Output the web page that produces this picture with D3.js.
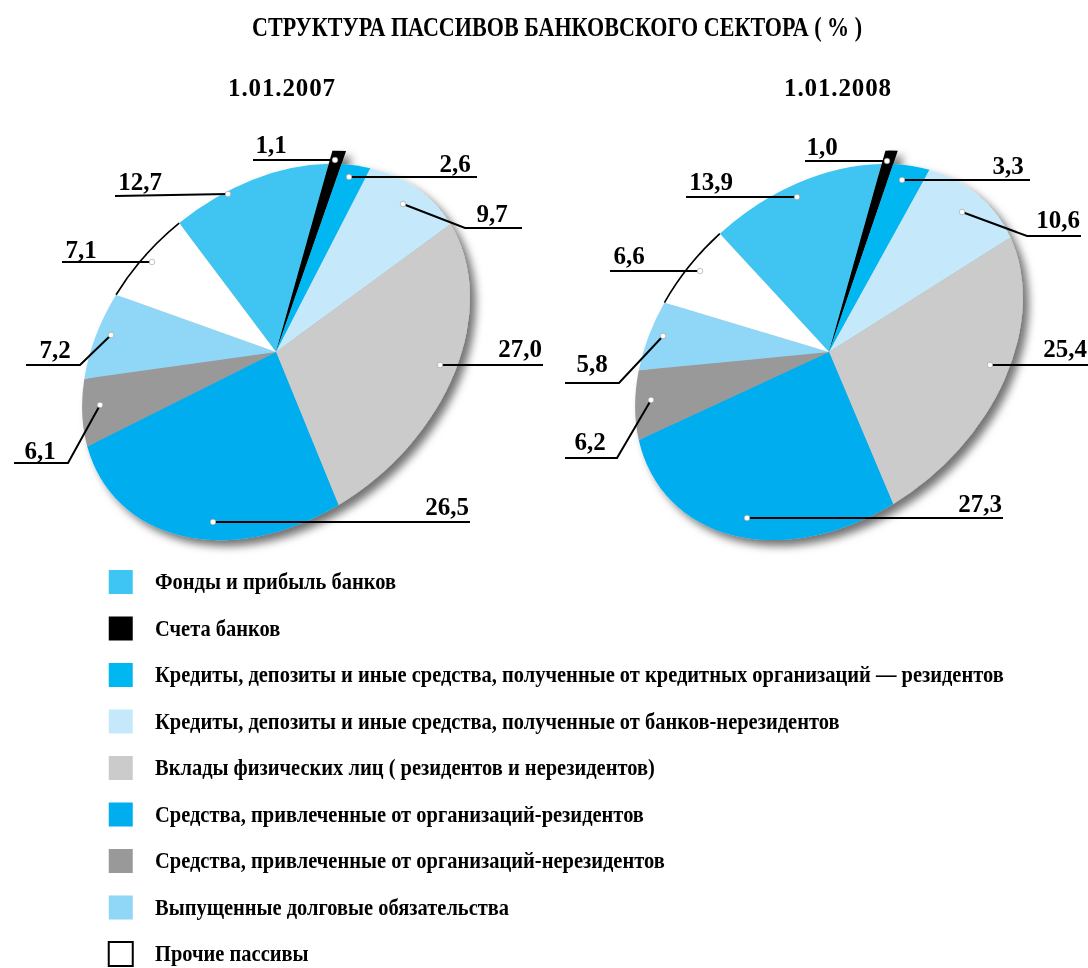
<!DOCTYPE html>
<html>
<head>
<meta charset="utf-8">
<script src="https://cdn.jsdelivr.net/npm/d3@7"></script>
<style>
html, body { margin: 0; padding: 0; background: #fff; overflow: hidden; }
svg { display: block; filter: blur(0.6px); }
text { font-family: "Liberation Serif", serif; font-weight: bold; fill: #000; }
</style>
</head>
<body>
<div id="chart"></div>
<script>
var categories = [
    "Фонды и прибыль банков",
    "Счета банков",
    "Кредиты, депозиты и иные средства, полученные от кредитных организаций — резидентов",
    "Кредиты, депозиты и иные средства, полученные от банков-нерезидентов",
    "Вклады физических лиц ( резидентов и нерезидентов)",
    "Средства, привлеченные от организаций-резидентов",
    "Средства, привлеченные от организаций-нерезидентов",
    "Выпущенные долговые обязательства",
    "Прочие пассивы"
];
var colors = ["#3fc5f3", "#000000", "#00b7f1", "#c5e9fa", "#cbcbcb", "#00aeef", "#999999", "#8fd6f7", "#ffffff"];
var values2007 = [12.7, 1.1, 2.6, 9.7, 27.0, 26.5, 6.1, 7.2, 7.1];
var values2008 = [13.9, 1.0, 3.3, 10.6, 25.4, 27.3, 6.2, 5.8, 6.6];
var dates = ["1.01.2007", "1.01.2008"];
var title = "СТРУКТУРА ПАССИВОВ БАНКОВСКОГО СЕКТОРА ( % )";

// leader lines, in page pixels: points from the dot outwards, then label x and baseline
var leaders2007 = [
    { pts: [[228, 194], [115, 196]], lx: 140, ly: 190 },
    { pts: [[335, 160], [253, 160]], lx: 271, ly: 153 },
    { pts: [[349, 177], [477, 177]], lx: 455, ly: 172 },
    { pts: [[403, 204], [465, 228], [522, 228]], lx: 492, ly: 222 },
    { pts: [[440, 365], [543, 365]], lx: 520, ly: 357 },
    { pts: [[213, 522], [470, 522]], lx: 447, ly: 515 },
    { pts: [[100, 405], [68, 463], [14, 463]], lx: 40, ly: 459 },
    { pts: [[111, 335], [80, 365], [26, 365]], lx: 55, ly: 358 },
    { pts: [[152, 262], [62, 262]], lx: 81, ly: 258 }
];
var leaders2008 = [
    { pts: [[797, 197], [686, 197]], lx: 711, ly: 190 },
    { pts: [[887, 161], [805, 161]], lx: 822, ly: 155 },
    { pts: [[902, 180], [1030, 180]], lx: 1008, ly: 174 },
    { pts: [[962, 212], [1027, 236], [1081, 236]], lx: 1058, ly: 228 },
    { pts: [[990, 365], [1088, 365]], lx: 1065, ly: 357 },
    { pts: [[747, 518], [1003, 518]], lx: 980, ly: 512 },
    { pts: [[651, 400], [617, 458], [565, 458]], lx: 590, ly: 450 },
    { pts: [[663, 336], [619, 383], [565, 383]], lx: 592, ly: 372 },
    { pts: [[700, 271], [610, 271]], lx: 629, ly: 264 }
];

var width = 1088, height = 968;

var svg = d3.select("#chart")
    .append("svg")
    .attr("width", width)
    .attr("height", height);

var defs = svg.append("defs");
defs.append("filter")
    .attr("id", "pieShadow")
    .attr("x", "-10%").attr("y", "-10%")
    .attr("width", "125%").attr("height", "125%")
    .append("feDropShadow")
    .attr("dx", 6).attr("dy", 6)
    .attr("stdDeviation", 4)
    .attr("flood-color", "#000")
    .attr("flood-opacity", 0.55);

svg.append("text")
    .attr("x", 252)
    .attr("y", 36)
    .attr("font-size", 27)
    .attr("textLength", 610)
    .attr("lengthAdjust", "spacingAndGlyphs")
    .text(title);

function fmt(v) {
    return v.toFixed(1).replace(".", ",");
}

function drawPie(values, leaders, date, cx, cy, dateX, startDeg) {
    svg.append("text")
        .attr("x", dateX - 53)
        .attr("y", 96)
        .attr("font-size", 25)
        .attr("textLength", 107)
        .text(date);

    var start = startDeg * Math.PI / 180;
    var pie = d3.pie().sort(null).startAngle(start).endAngle(start + 2 * Math.PI)(values);
    var arc = d3.arc().innerRadius(0).outerRadius(1);
    var blackArc = d3.arc().innerRadius(0).outerRadius(1.07);
    var rim = d3.arc().innerRadius(1).outerRadius(1);

    var g = svg.append("g").attr("filter", "url(#pieShadow)");
    var tilted = g.append("g")
        .attr("transform", "translate(" + cx + "," + cy + ") rotate(-42) scale(217,161)");

    tilted.selectAll(".slice")
        .data(pie)
        .enter().append("path")
        .attr("class", "slice")
        .attr("fill", function(d, i) { return colors[i]; })
        .attr("d", function(d, i) { return i == 1 ? blackArc(d) : arc(d); });

    // the white slice only has its rim outlined
    tilted.append("path")
        .attr("d", rim(pie[8]))
        .attr("fill", "none")
        .attr("stroke", "#000")
        .attr("stroke-width", 1.6)
        .attr("vector-effect", "non-scaling-stroke");

    var line = d3.line();
    svg.append("g").selectAll("path")
        .data(leaders)
        .enter().append("path")
        .attr("d", function(d) { return line(d.pts); })
        .attr("fill", "none")
        .attr("stroke", "#000")
        .attr("stroke-width", 2);

    svg.append("g").selectAll("circle")
        .data(leaders)
        .enter().append("circle")
        .attr("cx", function(d) { return d.pts[0][0]; })
        .attr("cy", function(d) { return d.pts[0][1]; })
        .attr("r", 2.8)
        .attr("fill", "#fff")
        .attr("stroke", "#999")
        .attr("stroke-width", 0.6);

    svg.append("g").selectAll("text")
        .data(leaders)
        .enter().append("text")
        .attr("x", function(d) { return d.lx; })
        .attr("y", function(d) { return d.ly; })
        .attr("text-anchor", "middle")
        .attr("font-size", 25)
        .text(function(d, i) { return fmt(values[i]); });
}

drawPie(values2007, leaders2007, dates[0], 276, 352, 281, 3.8);
drawPie(values2008, leaders2008, dates[1], 829, 352, 837, -0.5);

var legendY = d3.scalePoint().domain(categories).range([582, 954]);

var legend = svg.append("g").selectAll("g")
    .data(categories)
    .enter().append("g")
    .attr("transform", function(d) { return "translate(108," + legendY(d) + ")"; });

legend.append("rect")
    .attr("x", 0.75).attr("y", -12)
    .attr("width", 24).attr("height", 24)
    .attr("fill", function(d, i) { return colors[i]; })
    .attr("stroke", function(d, i) { return i == 8 ? "#000" : "none"; })
    .attr("stroke-width", 2);

legend.append("text")
    .attr("transform", "translate(47,7) scale(0.89,1)")
    .attr("font-size", 23)
    .text(function(d) { return d; });
</script>
</body>
</html>
